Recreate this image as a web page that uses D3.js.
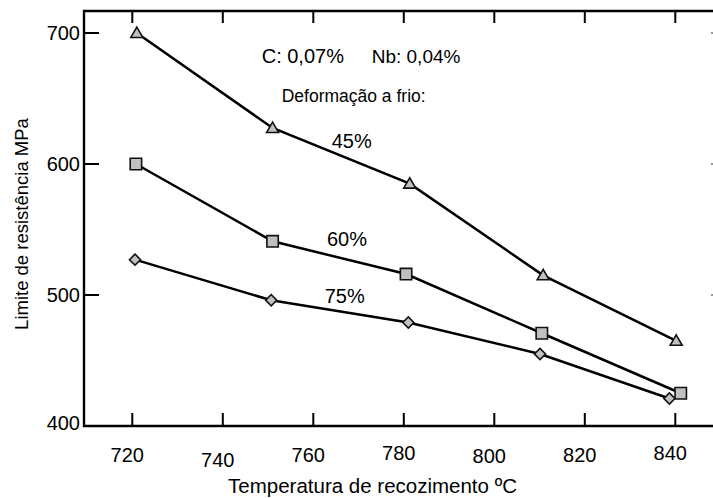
<!DOCTYPE html>
<html><head><meta charset="utf-8">
<script src="https://cdn.jsdelivr.net/npm/d3@7"></script>
<style>html,body{margin:0;padding:0;background:#fff;}svg{display:block;font-family:"Liberation Sans",Arial,sans-serif;}</style>
</head><body><svg id="c" width="713" height="498"></svg>
<script>
// ---- data ----
const temps45 = [721, 751, 781.3, 810.8, 840.2];
const vals45  = [700, 627.5, 585, 515, 465];
const temps60 = [720.8, 751, 780.5, 810.5, 841.2];
const vals60  = [600, 541, 516, 470.8, 425];
const temps75 = [720.6, 750.7, 781, 810.1, 838.7];
const vals75  = [527, 496, 479, 455, 421];
const xTicks = [720, 740, 760, 780, 800, 820, 840];
const yTicks = [400, 500, 600, 700];
const seriesLabels = ["45%", "60%", "75%"];
const xTitle = "Temperatura de recozimento ºC";
const yTitle = "Limite de resistência MPa";
const note1a = "C: 0,07%", note1b = "Nb: 0,04%";
const note2 = "Deformação a frio:";

// ---- layout ----
const svg = d3.select("#c");
const pLeft = 84, pTop = 11, pBottom = 426, pRight = 713;
const x = d3.scaleLinear().domain([720, 840]).range([132.3, 675.3]);
const y = d3.scaleLinear().domain([400, 700]).range([426, 33]);

// frame
svg.append("path").attr("d", `M${pRight},${pTop}H${pLeft}V${pBottom}H${pRight}`)
  .attr("fill", "none").attr("stroke", "#000").attr("stroke-width", 2.4);

const ticks = svg.append("g").attr("stroke", "#000").attr("stroke-width", 2);
// bottom ticks (inward)
ticks.selectAll("line.b").data(xTicks).join("line").attr("class", "b")
  .attr("x1", d => x(d)).attr("x2", d => x(d)).attr("y1", pBottom).attr("y2", pBottom - 13);
// top ticks (inward)
ticks.selectAll("line.t").data(xTicks).join("line").attr("class", "t")
  .attr("x1", d => x(d)).attr("x2", d => x(d)).attr("y1", pTop).attr("y2", pTop + 12);
// left ticks (inward)
ticks.selectAll("line.l").data(yTicks.filter(d => d > 400)).join("line").attr("class", "l")
  .attr("x1", pLeft).attr("x2", pLeft + 15).attr("y1", d => y(d)).attr("y2", d => y(d));
// right tiny ticks
svg.append("g").selectAll("line").data(yTicks.filter(d => d > 400)).join("line")
  .attr("x1", pRight - 2).attr("x2", pRight).attr("y1", d => y(d)).attr("y2", d => y(d))
  .attr("stroke", "#333").attr("stroke-width", 1.2);

// x tick labels with scanned jitter
const xLabelDy = [0, 5, 0, -1.5, 1.5, 0, -1.5];
svg.append("g").selectAll("text").data(xTicks).join("text")
  .attr("x", d => x(d) - 5).attr("y", (d, i) => 461.7 + xLabelDy[i])
  .attr("text-anchor", "middle").attr("font-size", 20).text(d => d);
// y tick labels
svg.append("g").selectAll("text").data(yTicks).join("text")
  .attr("x", 80).attr("y", d => d === 400 ? y(d) - 3 : y(d))
  .attr("dy", "0.35em").attr("text-anchor", "end").attr("font-size", 20).text(d => d);

// titles
svg.append("text").attr("x", 372.5).attr("y", 493).attr("text-anchor", "middle")
  .attr("font-size", 20.5).text(xTitle);
svg.append("text").attr("transform", "translate(28,224) rotate(-90)")
  .attr("text-anchor", "middle").attr("font-size", 18.5).text(yTitle);

// annotations
svg.append("text").attr("x", 261.7).attr("y", 62.5).attr("font-size", 20).text(note1a);
svg.append("text").attr("x", 371.7).attr("y", 62.5).attr("font-size", 19).text(note1b);
svg.append("text").attr("x", 281.7).attr("y", 101.5).attr("font-size", 17.5).text(note2);
const labelPos = [[351.7, 148], [347, 246], [344.7, 302.7]];
seriesLabels.forEach((t, i) => svg.append("text").attr("x", labelPos[i][0]).attr("y", labelPos[i][1])
  .attr("text-anchor", "middle").attr("font-size", 20).text(t));

// series
const series = [
  {xs: temps45, ys: vals45, sym: d3.symbolTriangle, size: 62, rot: 0, dy: 1},
  {xs: temps60, ys: vals60, sym: d3.symbolSquare, size: 130, rot: 0, dy: 0},
  {xs: temps75, ys: vals75, sym: d3.symbolSquare, size: 62, rot: 45, dy: 0}
];
const lineGen = d3.line().x(d => x(d[0])).y(d => y(d[1]));
series.forEach(s => {
  const pts = s.xs.map((t, i) => [t, s.ys[i]]);
  svg.append("path").attr("d", lineGen(pts)).attr("fill", "none")
    .attr("stroke", "#000").attr("stroke-width", 2.5);
});
series.forEach(s => {
  const pts = s.xs.map((t, i) => [t, s.ys[i]]);
  svg.append("g").selectAll("path").data(pts).join("path")
    .attr("transform", d => `translate(${x(d[0])},${y(d[1]) + s.dy}) rotate(${s.rot})`)
    .attr("d", d3.symbol().type(s.sym).size(s.size))
    .attr("fill", "#c0c0c0").attr("stroke", "#111").attr("stroke-width", 1.6);
});
</script></body></html>
